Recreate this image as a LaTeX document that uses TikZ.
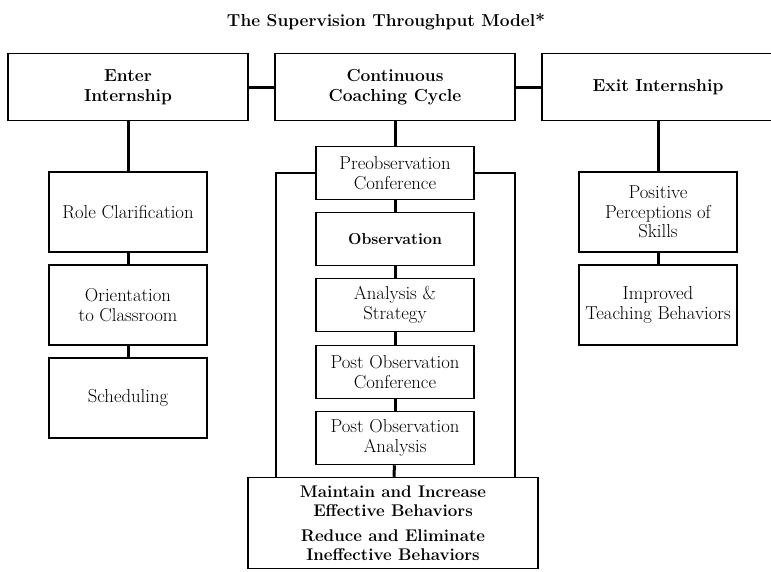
\documentclass[tikz,border=0pt]{standalone}
\usepackage{fontspec}
\begin{document}
\begin{tikzpicture}[x=1pt,y=-1pt]

      \useasboundingbox (0,0) rectangle (771,571);

      \node (title) at (386,22) {\fontsize{17.3}{20}\selectfont\bfseries The Supervision Throughput Model*};

      \begin{scope}[every node/.style={draw,line width=1.5pt,align=center,inner sep=1pt,
          minimum width=158,minimum height=53,font=\fontsize{18.7}{19.5}\selectfont}]
        \node (enter) at (128,87) [minimum width=240,minimum height=67,font=\fontsize{17.4}{20}\selectfont\bfseries] {Enter\\Internship};
        \node (coach) at (395,87) [minimum width=240,minimum height=67,font=\fontsize{17.4}{20}\selectfont\bfseries] {Continuous\\Coaching Cycle};
        \node (exit)  at (658,87) [minimum width=232,minimum height=67,font=\fontsize{17.4}{20}\selectfont\bfseries] {Exit Internship};

        \node (role)   at (128,212) [minimum height=80] {Role Clarification};
        \node (orient) at (128,305) [minimum height=80] {Orientation\\to Classroom};
        \node (sched)  at (128,398) [minimum height=80] {Scheduling};

        \node (pre)   at (395,173) {Preobservation\\Conference};
        \node (obs)   at (395,239) [font=\fontsize{15.9}{19.5}\selectfont\bfseries] {Observation};
        \node (ana)   at (395,305) {Analysis \&\\Strategy};
        \node (postc) at (395,372) {Post Observation\\Conference};
        \node (posta) at (395,438) {Post Observation\\Analysis};
        \node (mnt)   at (393,523) [minimum width=290,minimum height=91,font=\fontsize{16.9}{18.5}\selectfont\bfseries]
          {Maintain and Increase\\Effective Behaviors\\[7pt]Reduce and Eliminate\\Ineffective Behaviors};

        \node (pos)  at (658,212) [minimum height=80] {Positive\\Perceptions of\\Skills};
        \node (impr) at (658,305) [minimum height=80] {Improved\\Teaching Behaviors};
      \end{scope}

      \coordinate (frameL) at (276,478);
      \coordinate (frameR) at (515,478);

      \begin{scope}[every edge/.style={draw,line width=3pt}]
        \path (enter)  edge (coach);
        \path (coach)  edge (exit);
        \path (enter)  edge (role);
        \path (role)   edge (orient);
        \path (orient) edge (sched);
        \path (coach)  edge (pre);
        \path (pre)    edge (obs);
        \path (obs)    edge (ana);
        \path (ana)    edge (postc);
        \path (postc)  edge (posta);
        \path (posta)  edge (mnt);
        \path (exit)   edge (pos);
        \path (pos)    edge (impr);
      \end{scope}

      \draw[line width=1.8pt] (pre.west) -| (frameL);
      \draw[line width=1.8pt] (pre.east) -| (frameR);

    \end{tikzpicture}
\end{document}
